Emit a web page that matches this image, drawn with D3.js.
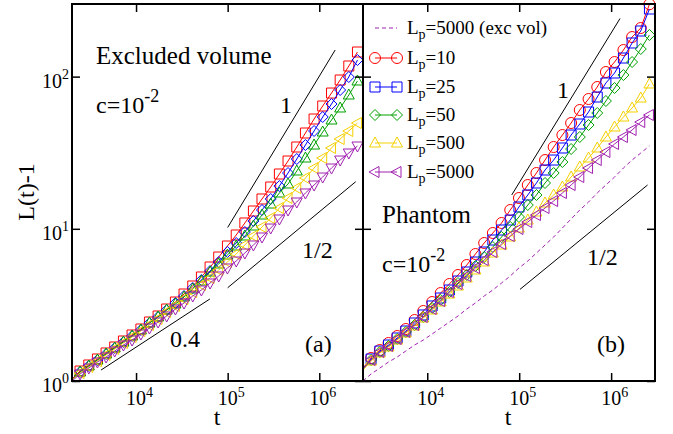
<!DOCTYPE html>
<html>
<head>
<meta charset="utf-8">
<script src="https://cdn.jsdelivr.net/npm/d3@7"></script>
<style>
body { margin: 0; background: #fff; }
text { font-family: "Liberation Serif", "Times New Roman", serif; fill: #000; }
</style>
</head>
<body>
<script>
// sampling times (first one sits on the left edge, no symbol drawn there)
var times = [2000, 2450, 3050, 3790, 4710, 5850, 7280, 9050, 11300, 14000, 17400, 21600, 26900,
    33400, 41600, 51700, 64300, 79900, 99400, 124000, 154000, 191000, 237000, 295000, 367000,
    456000, 568000, 706000, 877000, 1090000, 1360000, 1690000, 2100000, 2610000];

// (a) excluded volume, L(t)-1
var evLp10 = [1.031, 1.163, 1.274, 1.395, 1.528, 1.673, 1.832, 2.006, 2.196, 2.441, 2.674, 2.972, 3.304, 3.729, 4.210, 4.824, 5.611, 6.526, 7.709, 9.106, 10.92, 13.09, 15.70, 18.82, 22.91, 27.89, 34.47, 42.6, 52.65, 64.1, 78.0, 95.0, 117.4, 145.1];
var evLp25 = [1.023, 1.146, 1.255, 1.374, 1.504, 1.647, 1.804, 1.975, 2.163, 2.405, 2.634, 2.928, 3.254, 3.618, 4.083, 4.609, 5.282, 6.051, 7.040, 8.067, 9.528, 11.25, 13.29, 15.70, 19.10, 23.26, 28.74, 35.52, 43.91, 54.27, 66.07, 81.66, 99.4, 128.5];
var evLp50 = [1.015, 1.146, 1.255, 1.374, 1.504, 1.647, 1.804, 1.975, 2.163, 2.405, 2.634, 2.928, 3.205, 3.564, 4.022, 4.540, 5.202, 5.871, 6.727, 7.709, 8.969, 10.43, 12.32, 14.55, 17.19, 19.70, 23.98, 29.19, 35.52, 43.25, 51.86, 62.2, 75.7, 93.6];
var evLp500 = [1.015, 1.129, 1.236, 1.353, 1.482, 1.623, 1.777, 1.946, 2.131, 2.333, 2.555, 2.841, 3.111, 3.457, 3.844, 4.273, 4.751, 5.362, 6.051, 6.830, 7.828, 8.969, 10.28, 11.78, 13.70, 15.94, 18.54, 21.57, 25.09, 29.19, 33.96, 38.91, 43.91, 49.56];
var evLp5000 = [1.0, 1.112, 1.217, 1.333, 1.438, 1.574, 1.724, 1.859, 2.036, 2.229, 2.441, 2.674, 2.972, 3.254, 3.618, 3.962, 4.404, 4.897, 5.527, 6.144, 6.934, 7.828, 8.834, 10.12, 11.60, 13.29, 15.00, 17.19, 19.40, 21.89, 25.09, 28.31, 31.48, 35.0];

// (b) phantom chains, L(t)-1
var phLp10 = [1.217, 1.416, 1.598, 1.777, 1.975, 2.196, 2.516, 2.884, 3.304, 3.786, 4.339, 4.972, 5.783, 6.830, 8.067, 9.385, 10.92, 13.29, 15.94, 19.40, 23.26, 28.31, 34.47, 41.33, 49.56, 60.34, 71.27, 85.44, 107.2, 124.7, 149.5, 182.0, 208.6, 299];
var phLp25 = [1.199, 1.395, 1.574, 1.724, 1.917, 2.131, 2.405, 2.715, 3.111, 3.510, 3.962, 4.540, 5.202, 6.051, 7.040, 8.441, 9.820, 11.42, 13.91, 16.68, 20.0, 24.34, 28.31, 33.96, 41.33, 48.82, 58.54, 73.45, 90.78, 105.6, 132.5, 166.3, 199.4, 278.1];
var phLp50 = [1.199, 1.374, 1.551, 1.698, 1.888, 2.099, 2.333, 2.634, 3.017, 3.406, 3.844, 4.404, 4.972, 5.696, 6.526, 7.594, 8.834, 10.28, 11.96, 14.33, 16.68, 20.0, 23.26, 27.47, 33.44, 40.1, 48.08, 57.66, 69.15, 84.16, 102.4, 124.7, 151.8, 187.7];
var phLp500 = [1.181, 1.353, 1.528, 1.673, 1.859, 2.067, 2.298, 2.594, 2.928, 3.304, 3.729, 4.210, 4.751, 5.362, 6.051, 6.934, 7.828, 8.834, 10.12, 11.42, 12.89, 14.78, 16.68, 18.82, 21.89, 25.47, 29.19, 33.96, 40.1, 46.65, 54.27, 62.2, 72.34, 89.43];
var phLp5000 = [1.199, 1.374, 1.551, 1.698, 1.888, 2.099, 2.333, 2.634, 2.972, 3.354, 3.844, 4.339, 4.897, 5.527, 6.237, 7.040, 7.945, 8.969, 9.970, 11.08, 12.32, 13.70, 15.23, 17.19, 19.40, 21.89, 25.09, 28.31, 31.96, 36.08, 40.1, 44.58, 50.3, 55.94];

var lpValues = ["10", "25", "50", "500", "5000"];
var colors = ["#ff0000", "#0000ff", "#00a000", "#f5d000", "#a020b0"];

// power-law guides: [t1, L1, t2, L2]
var guidesA = [[1.0e5, 10.2, 1.49e6, 149.5], [1.0e5, 4.1, 2.5e6, 20.4], [4150, 1.18, 64000, 3.46]];
var guidesB = [[8.3e4, 16.7, 1.25e6, 241], [1.02e5, 4.0, 2.49e6, 19.4]];

var xTicks = [1e4, 1e5, 1e6];
var xTickExp = ["4", "5", "6"];
var yTicks = [1, 10, 100];
var yTickExp = ["0", "1", "2"];

var width = 673, height = 434;
var plotTop = 4, plotBottom = 381;

var svg = d3.select("body").append("svg")
    .attr("width", width)
    .attr("height", height);

var xA = d3.scaleLog().domain([2000, 3e6]).range([72, 363]);
var xB = d3.scaleLog().domain([2000, 3e6]).range([363, 655]);
var y = d3.scaleLog().domain([1, 300]).range([plotBottom, plotTop]);

// open symbols like in grace
function symbolPath(kind) {
    if (kind == "square") return "M-5,-5H5V5H-5Z";
    if (kind == "circle") return "M5.5,0A5.5,5.5 0 1,1 -5.5,0A5.5,5.5 0 1,1 5.5,0Z";
    if (kind == "diamond") return "M0,-5.5L5.5,0L0,5.5L-5.5,0Z";
    if (kind == "triUp") return "M0,-6L5.5,4L-5.5,4Z";
    if (kind == "triDown") return "M0,6L5.5,-4L-5.5,-4Z";
    if (kind == "triLeft") return "M-6,0L4,-5.5L4,5.5Z";
}

function drawSet(x, vals, color, kind, dashed) {
    var line = d3.line()
        .x(function (d, i) { return x(times[i]); })
        .y(function (d) { return y(d); });
    var g = svg.append("g");
    g.append("path")
        .attr("d", line(vals))
        .attr("fill", "none")
        .attr("stroke", color)
        .attr("stroke-width", 1)
        .attr("stroke-dasharray", dashed ? "4,3" : null);
    if (!kind) return;
    g.selectAll(".sym").data(vals.slice(1))
        .enter()
        .append("path")
        .attr("class", "sym")
        .attr("d", symbolPath(kind))
        .attr("transform", function (d, i) { return "translate(" + x(times[i + 1]) + "," + y(d) + ")"; })
        .attr("fill", "none")
        .attr("stroke", color)
        .attr("stroke-width", 1);
}

function drawGuides(x, guides) {
    svg.append("g").selectAll("line").data(guides)
        .enter()
        .append("line")
        .attr("x1", function (d) { return x(d[0]); })
        .attr("y1", function (d) { return y(d[1]); })
        .attr("x2", function (d) { return x(d[2]); })
        .attr("y2", function (d) { return y(d[3]); })
        .attr("stroke", "#000")
        .attr("stroke-width", 1);
}

// text with optional super/subscript parts: [string, dy, size]
function label(x, yy, size, parts, anchor) {
    var t = svg.append("text")
        .attr("x", x).attr("y", yy)
        .attr("font-size", size)
        .attr("text-anchor", anchor || "start");
    parts.forEach(function (p) {
        t.append("tspan").attr("dy", p[1]).attr("font-size", p[2] || size).text(p[0]);
    });
    return t;
}

function drawAxes(x, leftEdge, rightEdge, showYLabels) {
    var gx = svg.append("g").attr("transform", "translate(0," + plotBottom + ")")
        .call(d3.axisBottom(x).tickValues(xTicks).tickSize(-8).tickFormat(""));
    var gt = svg.append("g").attr("transform", "translate(0," + plotTop + ")")
        .call(d3.axisTop(x).tickValues(xTicks).tickSize(-8).tickFormat(""));
    var gl = svg.append("g").attr("transform", "translate(" + leftEdge + ",0)")
        .call(d3.axisLeft(y).tickValues(yTicks).tickSize(-8).tickFormat(""));
    var gr = svg.append("g").attr("transform", "translate(" + rightEdge + ",0)")
        .call(d3.axisRight(y).tickValues(yTicks).tickSize(-8).tickFormat(""));
    [gx, gt, gl, gr].forEach(function (g) {
        g.select(".domain").remove();
        g.selectAll(".tick line").attr("stroke", "#000").attr("stroke-width", 1.5);
    });

    xTicks.forEach(function (v, i) {
        label(x(v) - 10, 405, 20, [["10", 0], [xTickExp[i], -8, 14]]);
    });
    if (showYLabels) {
        yTicks.forEach(function (v, i) {
            label(leftEdge - 3, y(v) + 11, 20, [["10", 0], [yTickExp[i], -9, 14]], "end");
        });
    }
    svg.append("rect")
        .attr("x", leftEdge).attr("y", plotTop)
        .attr("width", rightEdge - leftEdge).attr("height", plotBottom - plotTop)
        .attr("fill", "none")
        .attr("stroke", "#000")
        .attr("stroke-width", 2);
}

// panel (a): excluded volume
var evSets = [evLp10, evLp25, evLp50, evLp500, evLp5000];
var evKinds = ["square", "diamond", "triUp", "triLeft", "triDown"];
drawGuides(xA, guidesA);
evSets.forEach(function (vals, s) { drawSet(xA, vals, colors[s], evKinds[s]); });

// panel (b): phantom chains
var phSets = [phLp10, phLp25, phLp50, phLp500, phLp5000];
var phKinds = ["circle", "square", "diamond", "triUp", "triLeft"];
drawGuides(xB, guidesB);
drawSet(xB, evLp5000, colors[4], null, true);
phSets.forEach(function (vals, s) { drawSet(xB, vals, colors[s], phKinds[s]); });

drawAxes(xA, 72, 363, true);
drawAxes(xB, 363, 655, false);

// axis titles
label(217, 425, 24, [["t", 0]], "middle");
label(508, 425, 24, [["t", 0]], "middle");
label(0, 0, 24, [["L(t)-1", 0]], "middle").attr("transform", "translate(34,192) rotate(-90)");

// panel annotations
label(96, 64, 25, [["Excluded volume", 0]]);
label(96, 113, 24, [["c=10", 0], ["-2", -11, 18]]);
label(280, 113, 24, [["1", 0]]);
label(302, 258, 24, [["1/2", 0]]);
label(170, 347, 24, [["0.4", 0]]);
label(305, 352, 24, [["(a)", 0]]);

label(382, 223, 25, [["Phantom", 0]]);
label(382, 272, 24, [["c=10", 0], ["-2", -11, 18]]);
label(557, 98, 24, [["1", 0]]);
label(587, 265, 24, [["1/2", 0]]);
label(597, 352, 24, [["(b)", 0]]);

// legend
var legY = [28, 58, 87, 115, 143, 172];
var lg = svg.append("g");
lg.append("line")
    .attr("x1", 375).attr("x2", 397).attr("y1", legY[0]).attr("y2", legY[0])
    .attr("stroke", colors[4]).attr("stroke-width", 1).attr("stroke-dasharray", "4,3");
label(407, legY[0] + 6, 19, [["L", 0], ["p", 5, 14], ["=5000 (exc vol)", -5]]);
lpValues.forEach(function (v, i) {
    var yy = legY[i + 1];
    lg.append("line")
        .attr("x1", 375).attr("x2", 397).attr("y1", yy).attr("y2", yy)
        .attr("stroke", colors[i]).attr("stroke-width", 1);
    [375, 397].forEach(function (xx) {
        lg.append("path")
            .attr("d", symbolPath(phKinds[i]))
            .attr("transform", "translate(" + xx + "," + yy + ")")
            .attr("fill", "none").attr("stroke", colors[i]).attr("stroke-width", 1);
    });
    label(407, yy + 6, 19, [["L", 0], ["p", 5, 14], ["=" + v, -5]]);
});
</script>
</body>
</html>
